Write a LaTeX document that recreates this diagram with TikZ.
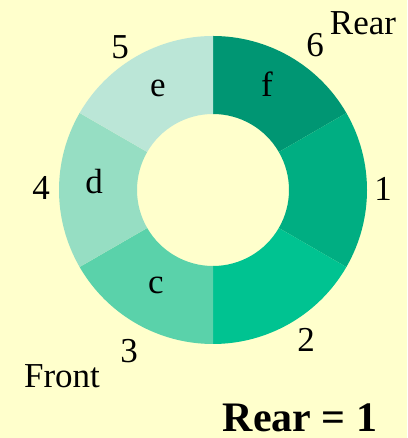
\documentclass[tikz,border=0pt]{standalone}
\usepackage{fontspec}
\setmainfont{Liberation Serif}
\usepackage{tikz}

\definecolor{bgyellow}{RGB}{255,255,204}
\definecolor{segf}{RGB}{0,150,115}
\definecolor{sega}{RGB}{0,174,130}
\definecolor{segb}{RGB}{0,195,145}
\definecolor{segc}{RGB}{90,210,170}
\definecolor{segd}{RGB}{150,222,195}
\definecolor{sege}{RGB}{187,230,215}

\begin{document}
\begin{tikzpicture}[
    x=1pt, y=1pt,
    every node/.style={inner sep=0pt, anchor=base, font=\fontsize{35}{40}\selectfont},
    seglabel/.style={},
    numlabel/.style={},
    caption/.style={font=\fontsize{42}{48}\selectfont\bfseries}
]

\fill[bgyellow] (0,0) rectangle (407,438);
\useasboundingbox (0,0) rectangle (407,438);

\coordinate (centre) at (213,248);

% ring segments: start angle / end angle / colour
\foreach \a/\b/\col in {30/90/segf, -30/30/sega, -90/-30/segb,
                        210/270/segc, 150/210/segd, 90/150/sege}{
    \fill[\col, shift={(centre)}] (\a:154) arc[start angle=\a, end angle=\b, radius=154]
        -- (\b:76) arc[start angle=\b, end angle=\a, radius=76] -- cycle;
}

\node[seglabel] (f) at (267,341) {f};
\node[seglabel] (e) at (158,341) {e};
\node[seglabel] (d) at (94,244) {d};
\node[seglabel] (c) at (156,144) {c};

\node[numlabel] (n1) at (383,237) {1};
\node[numlabel] (n2) at (306,86) {2};
\node[numlabel] (n3) at (129,75) {3};
\node[numlabel] (n4) at (41,238) {4};
\node[numlabel] (n5) at (120,379) {5};
\node[numlabel] (n6) at (315,381) {6};

\node (rear) at (363,403) {Rear};
\node (front) at (62,50) {Front};
\node[caption] (rearone) at (300,6) {Rear = 1};

\end{tikzpicture}
\end{document}
